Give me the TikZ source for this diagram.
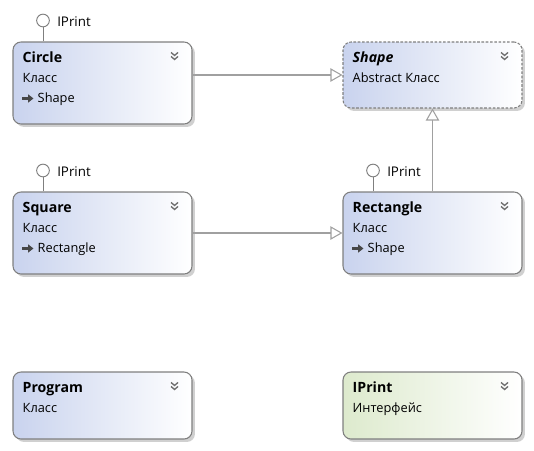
\documentclass[tikz,border=0pt]{standalone}
\usepackage{fontspec}
\setmainfont{Open Sans}
\usetikzlibrary{arrows.meta,shadows,calc}
\definecolor{bordergray}{HTML}{7F7F7F}
\definecolor{classblue}{HTML}{C9D3EE}
\definecolor{ifacegreen}{HTML}{DDEACD}
\definecolor{linegray}{HTML}{A0A0A0}
\definecolor{shadowgray}{HTML}{D0D0D0}
\definecolor{chevgray}{HTML}{6E6E6E}
\begin{document}
\begin{tikzpicture}[x=0.75pt,y=-0.75pt,
  box/.style={draw=bordergray, line width=0.8pt, rounded corners=6pt,
    minimum width=134.25pt, inner sep=0pt,
    left color=classblue, right color=white,
    general shadow={fill=shadowgray, shadow xshift=2.2pt, shadow yshift=-2.2pt}},
  ifbox/.style={box, left color=ifacegreen, right color=white},
  absbox/.style={box, dash pattern=on 2pt off 1.2pt},
  titletext/.style={anchor=base west, inner sep=0pt, font=\fontsize{10.6}{12}\selectfont\bfseries},
  bodytext/.style={anchor=base west, inner sep=0pt, font=\fontsize{9.6}{11}\selectfont},
  lolli/.style={circle, draw=bordergray, fill=white, line width=0.7pt, minimum size=9.5pt, inner sep=0pt},
  lollitext/.style={anchor=west, inner sep=0pt, font=\fontsize{10}{11}\selectfont},
  conn/.style={draw=linegray, line width=0.8pt, -{Triangle[open, length=9pt, width=10pt, fill=white]}},
  chev/.style={draw=chevgray, line width=1pt},
  inh/.style={draw=black!72, line width=1.9pt, -{Triangle[length=4pt, width=6pt]}}
]
\useasboundingbox (0,0) rectangle (534,450);

% boxes
\node[box, minimum height=61.5pt] (circle) at (102.5,83) {};
\node[absbox, minimum height=49.5pt] (shape) at (432.5,75) {};
\node[box, minimum height=61.5pt] (square) at (102.5,233) {};
\node[box, minimum height=61.5pt] (rectangle) at (432.5,233) {};
\node[box, minimum height=50.25pt] (program) at (102.5,405.5) {};
\node[ifbox, minimum height=50.25pt] (iprint) at (432.5,405.5) {};

% chevrons
\foreach \n in {circle,shape,square,rectangle,program,iprint}{
  \coordinate (\n-ch) at ($(\n.north east)+(-18,13)$);
  \draw[chev] ($(\n-ch)+(-3.5,-2)$) -- ($(\n-ch)+(0,1)$) -- ($(\n-ch)+(3.5,-2)$);
  \draw[chev] ($(\n-ch)+(-3.5,2)$) -- ($(\n-ch)+(0,5)$) -- ($(\n-ch)+(3.5,2)$);
}

% texts
\node[titletext] (circle-t) at ($(circle.north west)+(10,21)$) {Circle};
\node[bodytext] (circle-k) at ($(circle.north west)+(10,41)$) {Класс};
\coordinate (circle-a1) at ($(circle.north west)+(10,57)$);
\coordinate (circle-a2) at ($(circle.north west)+(21,57)$);
\draw[inh] (circle-a1) -- (circle-a2);
\node[bodytext] (circle-b) at ($(circle.north west)+(25,61)$) {Shape};

\node[titletext, font=\fontsize{10.6}{12}\selectfont\bfseries\itshape] (shape-t) at ($(shape.north west)+(10,21)$) {Shape};
\node[bodytext] (shape-k) at ($(shape.north west)+(10,41)$) {Abstract Класс};

\node[titletext] (square-t) at ($(square.north west)+(10,21)$) {Square};
\node[bodytext] (square-k) at ($(square.north west)+(10,41)$) {Класс};
\coordinate (square-a1) at ($(square.north west)+(10,57)$);
\coordinate (square-a2) at ($(square.north west)+(21,57)$);
\draw[inh] (square-a1) -- (square-a2);
\node[bodytext] (square-b) at ($(square.north west)+(25,61)$) {Rectangle};

\node[titletext] (rectangle-t) at ($(rectangle.north west)+(10,21)$) {Rectangle};
\node[bodytext] (rectangle-k) at ($(rectangle.north west)+(10,41)$) {Класс};
\coordinate (rectangle-a1) at ($(rectangle.north west)+(10,57)$);
\coordinate (rectangle-a2) at ($(rectangle.north west)+(21,57)$);
\draw[inh] (rectangle-a1) -- (rectangle-a2);
\node[bodytext] (rectangle-b) at ($(rectangle.north west)+(25,61)$) {Shape};

\node[titletext] (program-t) at ($(program.north west)+(10,21)$) {Program};
\node[bodytext] (program-k) at ($(program.north west)+(10,41)$) {Класс};

\node[titletext] (iprint-t) at ($(iprint.north west)+(10,21)$) {IPrint};
\node[bodytext] (iprint-k) at ($(iprint.north west)+(10,41)$) {Интерфейс};

% lollipops
\node[lolli] (circle-l) at (43,20.5) {};
\draw[draw=bordergray, line width=0.7pt] (circle-l) -- (circle-l |- circle.north);
\node[lollitext] (circle-lt) at (57,21.5) {IPrint};

\node[lolli] (square-l) at (43,170.5) {};
\draw[draw=bordergray, line width=0.7pt] (square-l) -- (square-l |- square.north);
\node[lollitext] (square-lt) at (57,171.5) {IPrint};

\node[lolli] (rectangle-l) at (373,170.5) {};
\draw[draw=bordergray, line width=0.7pt] (rectangle-l) -- (rectangle-l |- rectangle.north);
\node[lollitext] (rectangle-lt) at (387,171.5) {IPrint};

% connectors
\draw[conn] (circle.east |- shape.west) -- (shape.west);
\draw[conn] (square.east) -- (rectangle.west);
\draw[conn] (rectangle.north) -- (shape.south);
\end{tikzpicture}
\end{document}
